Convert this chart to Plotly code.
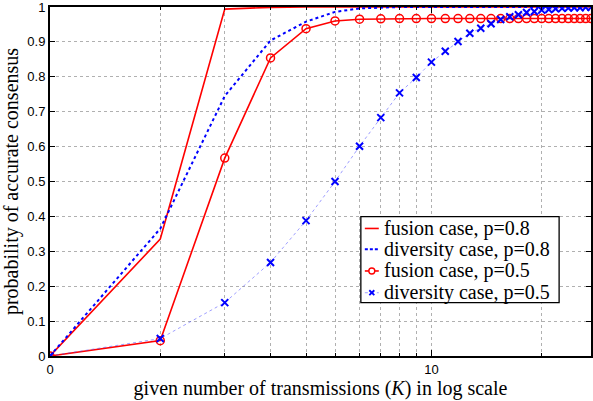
import plotly.graph_objects as go

# Number of transmissions K; plotted on a log axis as K + 1
K = list(range(0, 30))

# Probability of accurate consensus for each scheme
fusion_p08 = [0.0, 0.335, 0.994, 0.999] + [1.0] * 26
diversity_p08 = [0.0, 0.365, 0.745, 0.904, 0.958, 0.986, 0.996, 0.999] + [1.0] * 22
fusion_p05 = [0.0, 0.044, 0.567, 0.854, 0.938, 0.960, 0.965, 0.966] + [0.967] * 22
diversity_p05 = [0.0, 0.050, 0.153, 0.268, 0.388, 0.500, 0.601, 0.683, 0.754, 0.798,
                 0.842, 0.873, 0.901, 0.925, 0.939, 0.952, 0.964, 0.972, 0.978, 0.984,
                 0.987, 0.991, 0.993, 0.995, 0.996, 0.997, 0.998, 0.998, 0.999, 0.999]

series_names = ["fusion case, p=0.8", "diversity case, p=0.8",
                "fusion case, p=0.5", "diversity case, p=0.5"]

x_major = [1, 11]
x_major_text = ["0", "10"]
x_minor = [2, 3, 4, 5, 6, 7, 8, 9, 10, 22]
y_ticks = [i / 10 for i in range(11)]
y_tick_text = ["0", "0.1", "0.2", "0.3", "0.4", "0.5", "0.6", "0.7", "0.8", "0.9", "1"]

xs = [k + 1 for k in K]
serif = "Liberation Serif, Times New Roman, serif"
sans = "Liberation Sans, Arial, sans-serif"

RED = "#ff0000"
BLUE = "#0000ff"
FAINT_BLUE = "rgba(80,80,255,0.55)"

W, H = 593, 401
ML, MR, MT, MB = 50, 0, 3, 45
PW, PH = W - ML - MR, H - MT - MB


def px(x):
    """Horizontal pixel position -> paper fraction of the plot area."""
    return (x - ML) / PW


def py(y):
    """Vertical pixel position (from top) -> paper fraction of the plot area."""
    return (H - MB - y) / PH


fig = go.Figure()
fig.add_trace(go.Scatter(x=xs, y=fusion_p08, mode="lines", name=series_names[0],
                         line=dict(color=RED, width=1.6)))
fig.add_trace(go.Scatter(x=xs, y=diversity_p08, mode="lines", name=series_names[1],
                         line=dict(color=BLUE, width=2, dash="3px,3px")))
fig.add_trace(go.Scatter(x=xs, y=fusion_p05, mode="lines+markers", name=series_names[2],
                         line=dict(color=RED, width=1.6),
                         marker=dict(symbol="circle-open", size=8, color=RED,
                                     line=dict(width=1.5, color=RED))))
fig.add_trace(go.Scatter(x=xs, y=diversity_p05, mode="lines+markers", name=series_names[3],
                         line=dict(color=FAINT_BLUE, width=1, dash="dot"),
                         marker=dict(symbol="x-thin", size=7, color=BLUE,
                                     line=dict(width=2, color=BLUE))))

# Legend box drawn by hand for tight, Times-like rows
shapes = []
annotations = []
box_l, box_r, box_t, box_b = 362, 561, 215, 302
shapes.append(dict(type="rect", xref="paper", yref="paper",
                   x0=px(box_l), x1=px(box_r), y0=py(box_b), y1=py(box_t),
                   line=dict(color="black", width=1.3), fillcolor="white", layer="above"))
row_y = [227, 248, 270, 292]
key_l, key_r, key_c = 366, 380, 373
line_styles = [dict(color=RED, width=1.6),
               dict(color=BLUE, width=2, dash="3px,2px"),
               dict(color=RED, width=1.6),
               dict(color=FAINT_BLUE, width=1, dash="dot")]
for name, yy, ls in zip(series_names, row_y, line_styles):
    shapes.append(dict(type="line", xref="paper", yref="paper",
                       x0=px(key_l), x1=px(key_r), y0=py(yy), y1=py(yy),
                       line=ls, layer="above"))
    annotations.append(dict(xref="paper", yref="paper", x=px(383), y=py(yy),
                            xanchor="left", yanchor="middle", showarrow=False,
                            text=name, font=dict(family=serif, size=20, color="black")))
# circle key for fusion p=0.5
r = 3
shapes.append(dict(type="circle", xref="paper", yref="paper",
                   x0=px(key_c - r), x1=px(key_c + r), y0=py(row_y[2] + r), y1=py(row_y[2] - r),
                   line=dict(color=RED, width=1.4), fillcolor="white", layer="above"))
# cross key for diversity p=0.5
c = 2.5
for sgn in (1, -1):
    shapes.append(dict(type="line", xref="paper", yref="paper",
                       x0=px(key_c - c), x1=px(key_c + c),
                       y0=py(row_y[3] - sgn * c), y1=py(row_y[3] + sgn * c),
                       line=dict(color=BLUE, width=1.8), layer="above"))

fig.update_layout(
    width=W, height=H,
    margin=dict(l=ML, r=MR, t=MT, b=MB),
    paper_bgcolor="white", plot_bgcolor="white",
    showlegend=False,
    shapes=shapes,
    annotations=annotations,
    xaxis=dict(
        type="log", range=[0, 1.477],
        tickmode="array", tickvals=x_major, ticktext=x_major_text,
        ticks="inside", ticklen=6, tickcolor="black", tickwidth=1.2,
        showline=True, linecolor="black", linewidth=2, mirror="ticks",
        showgrid=True, gridcolor="#b0b0b0", griddash="dot", gridwidth=1,
        zeroline=False, ticklabeloverflow="allow",
        tickfont=dict(family=sans, size=13, color="black"),
        minor=dict(tickmode="array", tickvals=x_minor, ticks="inside", ticklen=3,
                   tickcolor="black", showgrid=True, gridcolor="#b0b0b0",
                   griddash="dot", gridwidth=1),
        title=dict(text="given number of transmissions (<i>K</i>) in log scale",
                   font=dict(family=serif, size=20, color="black"), standoff=4),
    ),
    yaxis=dict(
        range=[0, 1],
        tickmode="array", tickvals=y_ticks, ticktext=y_tick_text,
        ticks="inside", ticklen=5, tickcolor="black", tickwidth=1.2,
        showline=True, linecolor="black", linewidth=2, mirror="ticks",
        showgrid=True, gridcolor="#b0b0b0", griddash="dot", gridwidth=1,
        zeroline=False, ticklabeloverflow="allow",
        tickfont=dict(family=sans, size=13, color="black"),
        title=dict(text="probability of accurate consensus",
                   font=dict(family=serif, size=20, color="black"), standoff=4),
    ),
)

fig.write_html("out.html")
